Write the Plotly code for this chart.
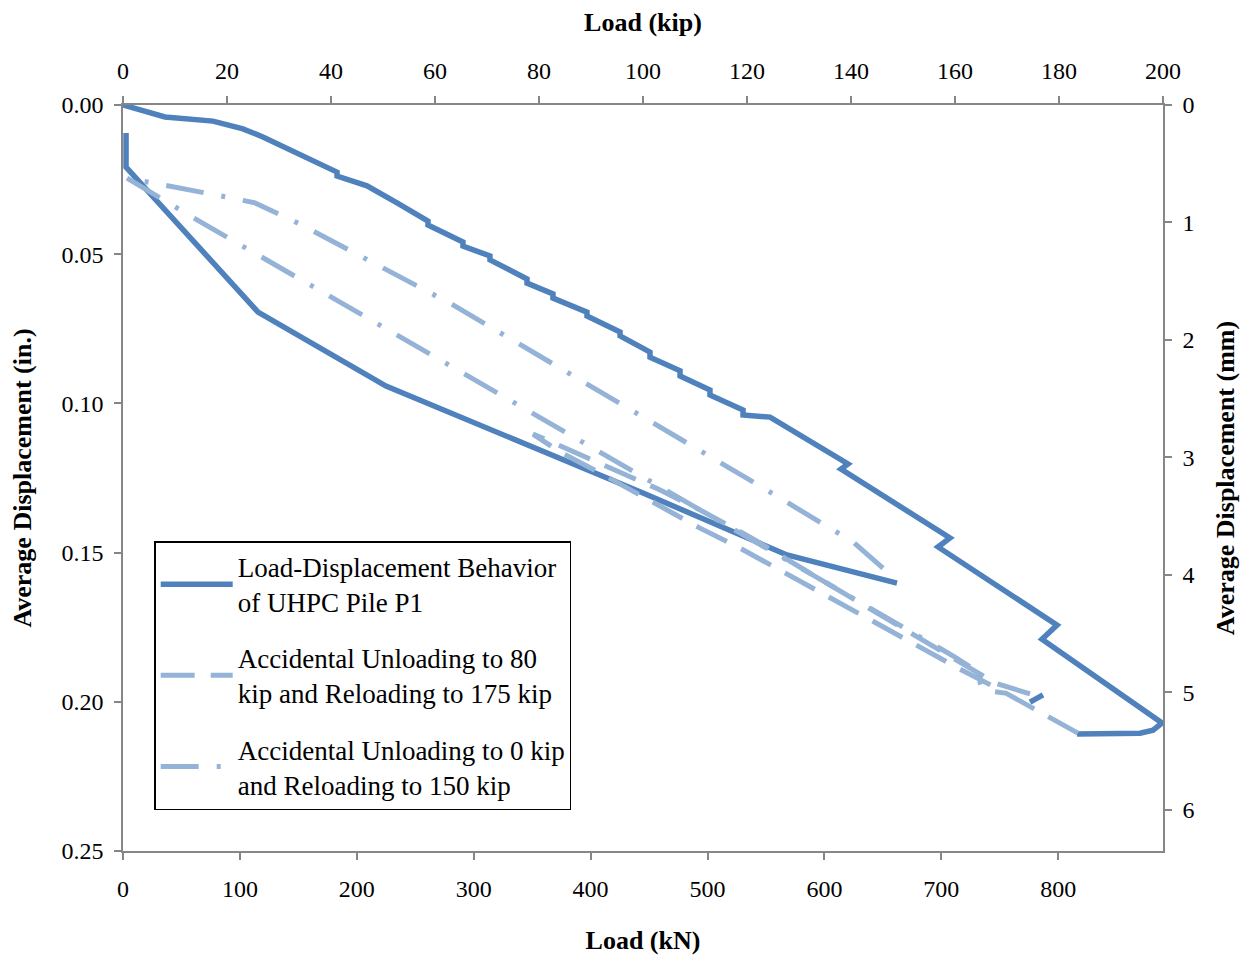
import plotly.graph_objects as go

# Load-displacement data, load in kN, displacement in inches
main_load = [0, 35.9, 77.0, 102.6, 119.7, 151.4, 183.1, 183.1, 208.7, 234.4, 260.9, 260.9,
             290.8, 290.8, 313.9, 313.9, 345.6, 345.6, 367.8, 367.8, 396.9, 396.9, 425.2, 425.2,
             450.8, 450.8, 476.5, 476.5, 502.1, 502.1, 530.4, 530.4, 553.5, 620.2, 614.2,
             707.4, 697.2, 799.0, 786.1, 888.8, 881.1, 870.0, 816.1,
             None,
             662.1, 568.0, 444.8, 339.6, 225.0, 115.5, 2.6, 2.6,
             None,
             775.9, 787.0]
main_disp = [0, 0.0040, 0.0054, 0.0080, 0.0107, 0.0168, 0.0225, 0.0238, 0.0271, 0.0328, 0.0389, 0.0402,
             0.0459, 0.0473, 0.0506, 0.0519, 0.0583, 0.0597, 0.0633, 0.0647, 0.0694, 0.0707, 0.0761, 0.0774,
             0.0828, 0.0845, 0.0891, 0.0908, 0.0955, 0.0972, 0.1022, 0.1039, 0.1046, 0.1203, 0.1220,
             0.1451, 0.1481, 0.1743, 0.1790, 0.2071, 0.2095, 0.2105, 0.2108,
             None,
             0.1602, 0.1508, 0.1300, 0.1129, 0.0942, 0.0694, 0.0208, 0.0094,
             None,
             0.2001, 0.1977]

unload80_load = [816.9, 787.0, 750.2, 714.3, 664.7, 619.3, 572.3, 527.8, 493.6, 450.8, 408.0, 373.8, 350.7,
                 362.7, 393.5, 426.9, 457.7, 493.6, 536.4, 581.7, 615.9, 647.6, 681.8, 711.7, 745.9, 784.4]
unload80_disp = [0.2105, 0.2038, 0.1960, 0.1887, 0.1780, 0.1679, 0.1582, 0.1485, 0.1418, 0.1324, 0.1233, 0.1163, 0.1103,
                 0.1123, 0.1176, 0.1233, 0.1287, 0.1357, 0.1448, 0.1555, 0.1635, 0.1706, 0.1786, 0.1860, 0.1937, 0.1984]

unload0_load = [650.1, 624.5, 604.8, 540.6, 282.3, 151.4, 112.9, 80.4, 3.4,
                63.3, 194.2, 388.4, 469.6, 519.2, 581.7, 647.6, 711.7, 728.8, 735.7, 754.5]
unload0_disp = [0.1552, 0.1464, 0.1418, 0.1267, 0.0670, 0.0399, 0.0328, 0.0302, 0.0245,
                0.0385, 0.0680, 0.1119, 0.1304, 0.1414, 0.1558, 0.1709, 0.1850, 0.1893, 0.1960, 0.1971]

KN_PER_KIP = 4.44822
MM_PER_IN = 25.4
kn_max = 200 * KN_PER_KIP
in_max = 0.25

dark = "#4F81BD"
light = "#95B3D7"
axis_grey = "#868686"
font_family = "Liberation Serif, Times New Roman, serif"

fig = go.Figure()

fig.add_trace(go.Scatter(
    x=main_load, y=main_disp, mode="lines", connectgaps=False,
    line=dict(color=dark, width=5.5),
    name="Load-Displacement Behavior<br>of UHPC Pile P1", legendgroup="a"))
fig.add_trace(go.Scatter(
    x=unload80_load, y=unload80_disp, mode="lines",
    line=dict(color=light, width=5, dash="34px,16px"),
    name="Accidental Unloading to 80<br>kip and Reloading to 175 kip", legendgroup="b"))
fig.add_trace(go.Scatter(
    x=unload0_load, y=unload0_disp, mode="lines",
    line=dict(color=light, width=5, dash="38px,18px,4px,18px"),
    name="Accidental Unloading to 0 kip<br>and Reloading to 150 kip", legendgroup="c"))

# invisible trace so the kip / mm axes get drawn
fig.add_trace(go.Scatter(
    x=[0, 200], y=[0, in_max * MM_PER_IN], xaxis="x2", yaxis="y2", mode="lines",
    line=dict(width=0, color="rgba(0,0,0,0)"), showlegend=False, hoverinfo="skip"))

tick_font = dict(family=font_family, size=24, color="black")
title_font = dict(family=font_family, size=26, color="black")

common = dict(showline=True, linecolor=axis_grey, linewidth=1.5, ticks="outside",
              tickcolor=axis_grey, tickwidth=1.5, ticklen=7, showgrid=False,
              zeroline=False, tickfont=tick_font, automargin=False)

# page body adds 8px offset, so margins are trimmed by 8
fig.update_layout(
    width=1244, height=947,
    margin=dict(l=115, r=89, t=97, b=104),
    paper_bgcolor="white", plot_bgcolor="white",
    font=dict(family=font_family, color="black"),
    xaxis=dict(range=[0, kn_max], tick0=0, dtick=100, ticklabelstandoff=8,
               title=dict(text="<b>Load (kN)</b>", font=title_font, standoff=30), **common),
    xaxis2=dict(range=[0, 200], tick0=0, dtick=20, overlaying="x", side="top", ticklabelstandoff=8,
                title=dict(text="<b>Load (kip)</b>", font=title_font, standoff=30), **common),
    yaxis=dict(range=[in_max, 0], tick0=0, dtick=0.05, tickformat=".2f", ticklabelstandoff=6,
               title=dict(text="<b>Average Displacement (in.)</b>", font=title_font, standoff=22), **common),
    yaxis2=dict(range=[in_max * MM_PER_IN, 0], tick0=0, dtick=1, overlaying="y", side="right",
                ticklabelstandoff=6,
                title=dict(text="<b>Average Displacement (mm)</b>", font=title_font, standoff=22), **common),
    legend=dict(x=0.03, y=0.4155, xanchor="left", yanchor="top",
                bgcolor="white", bordercolor="black", borderwidth=1.5,
                font=dict(family=font_family, size=27, color="black"),
                tracegroupgap=18, itemwidth=72),
    showlegend=True,
)

fig.write_html("out.html")
